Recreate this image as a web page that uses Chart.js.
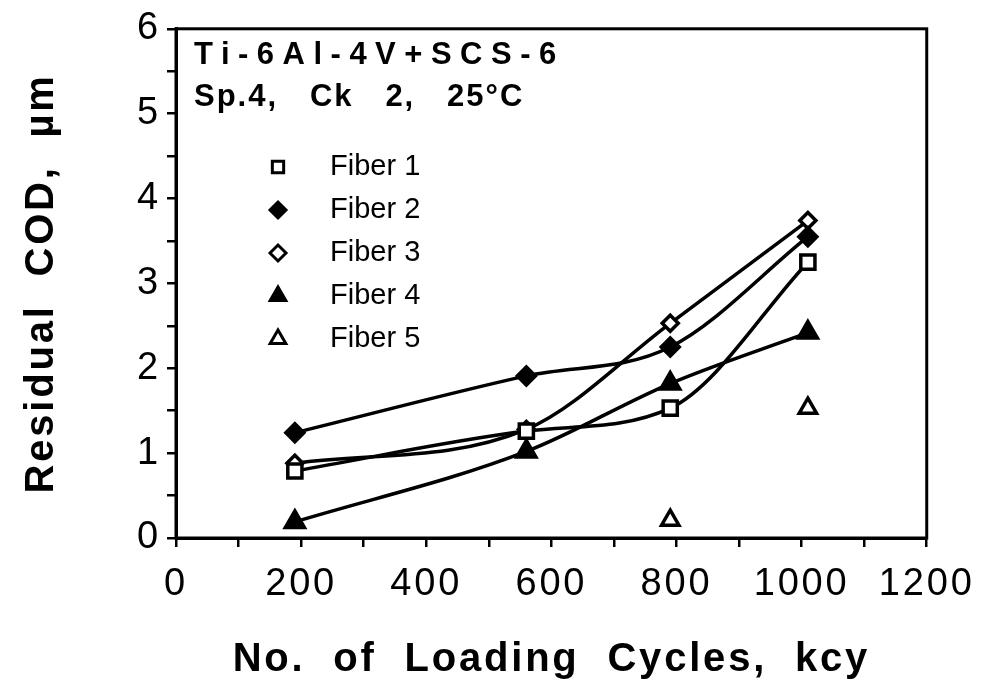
<!DOCTYPE html>
<html>
<head>
<meta charset="utf-8">
<script src="https://cdn.jsdelivr.net/npm/chart.js@4.4.0/dist/chart.umd.min.js"></script>
<style>
  html, body { margin: 0; padding: 0; background: #fff; }
  #wrap { width: 984px; height: 690px; }
</style>
</head>
<body>
<div id="wrap"><canvas id="chart" width="984" height="690"></canvas></div>
<script>
// kilocycles at which the residual COD was measured
const cycles = [190, 560, 790, 1010];
const fiber1 = [0.79, 1.26, 1.53, 3.25];
const fiber2 = [1.24, 1.91, 2.25, 3.55];
const fiber3 = [0.88, 1.28, 2.53, 3.74];
const fiber4 = [0.19, 1.02, 1.82, 2.42];
const fiber5 = [null, null, 0.21, 1.53];

const seriesNames = ["Fiber 1", "Fiber 2", "Fiber 3", "Fiber 4", "Fiber 5"];
const titleLines = ["Ti-6Al-4V+SCS-6", "Sp.4,   Ck   2,   25°C"];
const xTickLabels = [0, 200, 400, 600, 800, 1000, 1200];
const yTickLabels = [0, 1, 2, 3, 4, 5, 6];

const FONT = "'Liberation Sans', Arial, sans-serif";

const toPoints = (vals) => cycles.map((c, i) => ({ x: c, y: vals[i] })).filter(p => p.y !== null);

const makeSet = (label, vals, style, filled, radius, line) => ({
  label: label,
  data: toPoints(vals),
  borderColor: "#000",
  backgroundColor: filled ? "#000" : "#fff",
  pointStyle: style,
  pointRadius: radius,
  pointBorderWidth: 3.5,
  pointBackgroundColor: filled ? "#000" : "#fff",
  pointBorderColor: "#000",
  borderWidth: 3.5,
  showLine: line,
  cubicInterpolationMode: "monotone",
});

const datasets = [
  makeSet(seriesNames[0], fiber1, "rect", false, 10, true),
  makeSet(seriesNames[1], fiber2, "rectRot", true, 9, true),
  makeSet(seriesNames[2], fiber3, "rectRot", false, 8, true),
  makeSet(seriesNames[3], fiber4, "triangle", true, 11, true),
  makeSet(seriesNames[4], fiber5, "triangle", false, 10, false),
];

// the old figure is typeset with wide letter spacing
const spacingPlugin = {
  id: "spacing",
  beforeDraw(chart) { chart.ctx.letterSpacing = "2.8px"; },
};

// frame around the plot, plus the title text and legend drawn inside it
const framePlugin = {
  id: "frame",
  afterDraw(chart) {
    const { ctx, chartArea: a } = chart;
    ctx.save();
    ctx.strokeStyle = "#000";
    ctx.lineWidth = 3;
    ctx.strokeRect(a.left, a.top, a.right - a.left, a.bottom - a.top);

    ctx.fillStyle = "#000";
    ctx.textBaseline = "middle";
    ctx.textAlign = "left";
    ctx.font = "bold 31px " + FONT;
    ctx.letterSpacing = "8.5px";
    ctx.fillText(titleLines[0], a.left + 18, 55);
    ctx.letterSpacing = "2px";
    ctx.fillText(titleLines[1], a.left + 18, 97);

    ctx.font = "29px " + FONT;
    ctx.letterSpacing = "0px";
    const rows = [167, 210, 253, 296, 339];
    chart.data.datasets.forEach((ds, i) => {
      ctx.fillStyle = ds.pointBackgroundColor;
      ctx.strokeStyle = "#000";
      ctx.lineWidth = 3;
      Chart.helpers.drawPoint(ctx, {
        pointStyle: ds.pointStyle,
        radius: ds.pointStyle === "triangle" ? 9 : 8,
        borderWidth: 3,
        rotation: 0,
      }, 278, rows[i]);
      ctx.fillStyle = "#000";
      ctx.fillText(ds.label, 330, rows[i]);
    });
    ctx.restore();
    ctx.letterSpacing = "0px";
  }
};

new Chart(document.getElementById("chart"), {
  type: "line",
  data: { datasets: datasets },
  options: {
    responsive: false,
    animation: false,
    events: [],
    layout: { padding: { top: 22, right: 54, left: 0, bottom: 0 } },
    plugins: { legend: { display: false }, tooltip: { enabled: false } },
    scales: {
      x: {
        type: "linear",
        min: 0,
        max: 1200,
        afterFit(scale) { scale.height = 152; },
        afterBuildTicks(scale) {
          const t = [];
          for (let v = 0; v <= 1200; v += 100) t.push({ value: v });
          scale.ticks = t;
        },
        ticks: {
          color: "#000",
          padding: 15,
          maxRotation: 0,
          autoSkip: false,
          font: { family: FONT, size: 38 },
          callback: (v) => xTickLabels.includes(v) ? String(v) : "",
        },
        grid: { drawOnChartArea: false, drawTicks: true, tickLength: 9, color: "#000", lineWidth: 2.5 },
        border: { display: true, color: "#000", width: 3 },
        title: {
          display: true,
          text: "No.  of  Loading  Cycles,  kcy",
          color: "#000",
          padding: { top: 0, bottom: 6 },
          font: { family: FONT, size: 40, weight: "bold" },
        },
      },
      y: {
        min: 0,
        max: 6,
        afterFit(scale) { scale.width = 176; },
        afterBuildTicks(scale) {
          const t = [];
          for (let v = 0; v <= 6; v += 0.5) t.push({ value: v });
          scale.ticks = t;
        },
        ticks: {
          color: "#000",
          padding: 6,
          autoSkip: false,
          font: { family: FONT, size: 38 },
          callback: (v) => yTickLabels.includes(v) ? String(v) : "",
        },
        grid: { drawOnChartArea: false, drawTicks: true, tickLength: 9, color: "#000", lineWidth: 2.5 },
        border: { display: true, color: "#000", width: 3 },
        title: {
          display: true,
          text: "Residual  COD,  µm",
          color: "#000",
          padding: { top: 18, bottom: 0 },
          font: { family: FONT, size: 40, weight: "bold" },
        },
      },
    },
  },
  plugins: [spacingPlugin, framePlugin],
});
</script>
</body>
</html>
